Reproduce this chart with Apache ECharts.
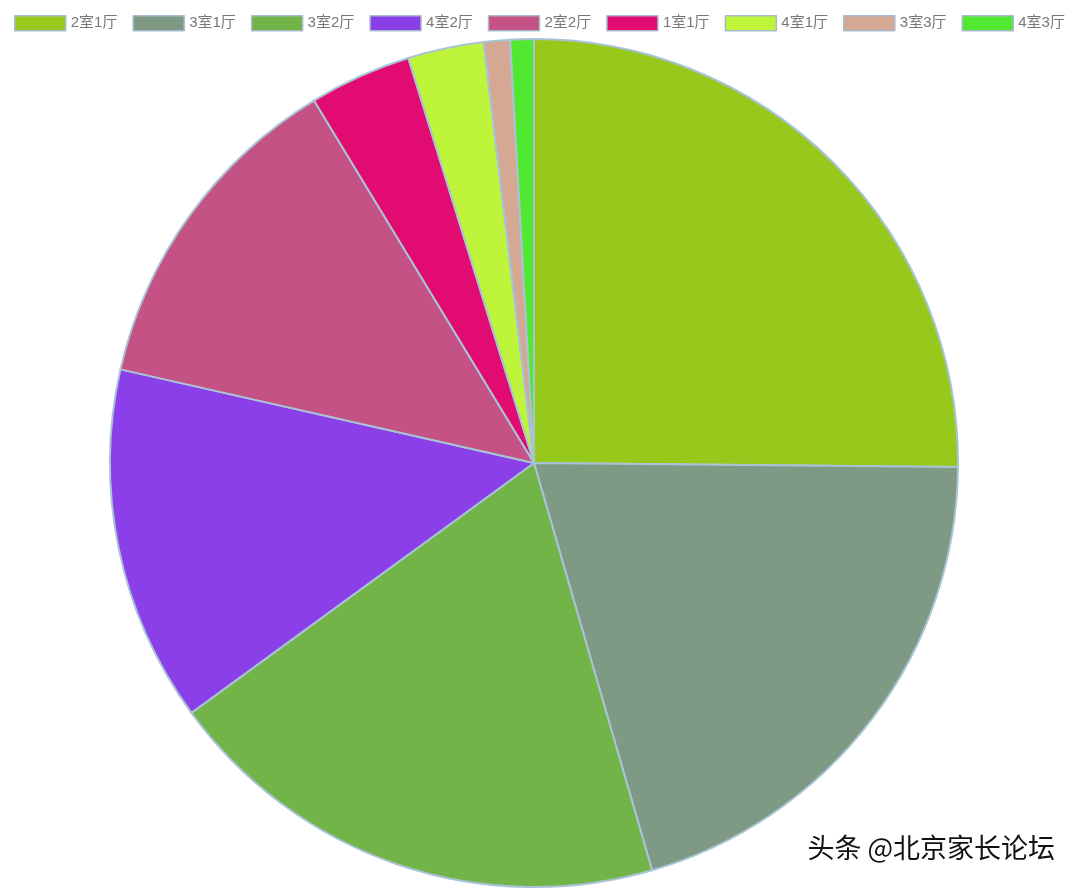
<!DOCTYPE html>
<html>
<head>
<meta charset="utf-8">
<script src="https://cdn.jsdelivr.net/npm/echarts@6/dist/echarts.min.js"></script>
<style>
html,body{margin:0;padding:0;background:#fff;}
#chart{width:1080px;height:888px;}
</style>
</head>
<body>
<div id="chart"></div>
<script>
const categories = ['2室1厅','3室1厅','3室2厅','4室2厅','2室2厅','1室1厅','4室1厅','3室3厅','4室3厅'];
const values = [25.2, 20.4, 19.5, 13.6, 12.8, 3.9, 2.9, 1.0, 0.9];
const colors = ['#97c91d','#7e9a84','#72b447','#8a3fe9','#c45285','#e10b72','#bef43a','#d4a893','#50e830'];

const chart = echarts.init(document.getElementById('chart'));
chart.setOption({
  animation: false,
  color: colors,
  legend: {
    top: 10,
    left: 9,
    icon: 'rect',
    itemWidth: 51,
    itemHeight: 15,
    itemGap: 15,
    itemStyle: { borderColor: '#a9bccd', borderWidth: 1.5 },
    textStyle: { color: '#777', fontSize: 15, fontFamily: 'Liberation Sans, Noto Sans CJK SC' },
    data: categories
  },
  series: [{
    type: 'pie',
    center: [534, 463],
    radius: 424,
    startAngle: 90,
    clockwise: true,
    label: { show: false },
    labelLine: { show: false },
    itemStyle: { borderColor: '#a9c3d6', borderWidth: 2 },
    data: categories.map((c, i) => ({ name: c, value: values[i] }))
  }],
  graphic: [{
    type: 'text',
    left: 806,
    top: 833,
    style: {
      text: '头条 @北京家长论坛',
      fill: '#111',
      stroke: '#fff',
      lineWidth: 3,
      font: '27px "Noto Sans CJK SC"'
    }
  }]
});
</script>
</body>
</html>
